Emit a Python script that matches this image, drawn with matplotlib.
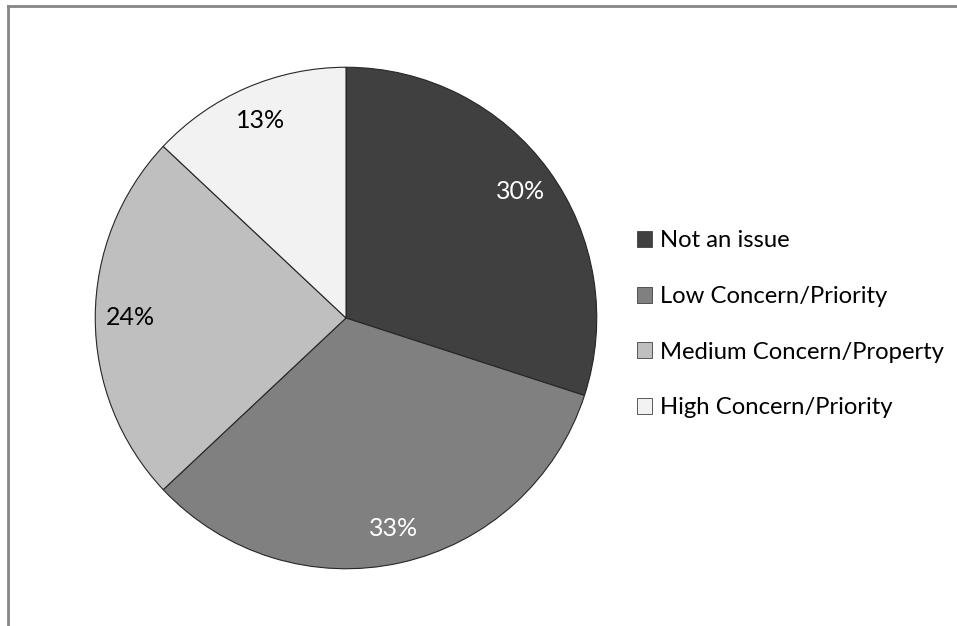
import matplotlib.pyplot as plt
from matplotlib.patches import Patch
from matplotlib.lines import Line2D

labels = ["Not an issue", "Low Concern/Priority", "Medium Concern/Property", "High Concern/Priority"]
shares = [30, 33, 24, 13]
colors = ["#404040", "#808080", "#bfbfbf", "#f2f2f2"]
text_colors = ["white", "white", "black", "black"]

plt.rcParams['font.family'] = ['Lato', 'DejaVu Sans']

fig = plt.figure(figsize=(9.57, 6.26), dpi=100)

# pie axes: centre (346, 318) px, radius 252 px
W, H = 957, 626
ax = fig.add_axes([(346 - 252) / W, (H - 318 - 252) / H, 504 / W, 504 / H])
wedges, texts = ax.pie(shares, colors=colors, startangle=90, counterclock=False,
                       labels=[f"{s}%" for s in shares], labeldistance=0.86,
                       wedgeprops=dict(edgecolor="#262626", linewidth=0.8),
                       textprops=dict(fontsize=18, ha='center', va='center'))
for t, c in zip(texts, text_colors):
    t.set_color(c)
ax.set_xlim(-1.005, 1.005)
ax.set_ylim(-1.005, 1.005)
ax.set_aspect('equal')

# legend on the right
handles = [Patch(facecolor=c, edgecolor="#404040", linewidth=0.6) for c in colors]
fig.legend(handles, labels, loc='center left', bbox_to_anchor=(0.643, 0.482),
           frameon=False, fontsize=17.2, handlelength=0.65, handleheight=0.65,
           handletextpad=0.3, labelspacing=1.45)

# chart frame (only top and left edges visible)
fig.add_artist(Line2D([8 / W, 1], [1 - 5.5 / H] * 2, color="#868686", linewidth=2))
fig.add_artist(Line2D([8 / W] * 2, [0, 1 - 5.5 / H], color="#868686", linewidth=2))

fig.savefig("out.png", dpi=100, facecolor="white")
